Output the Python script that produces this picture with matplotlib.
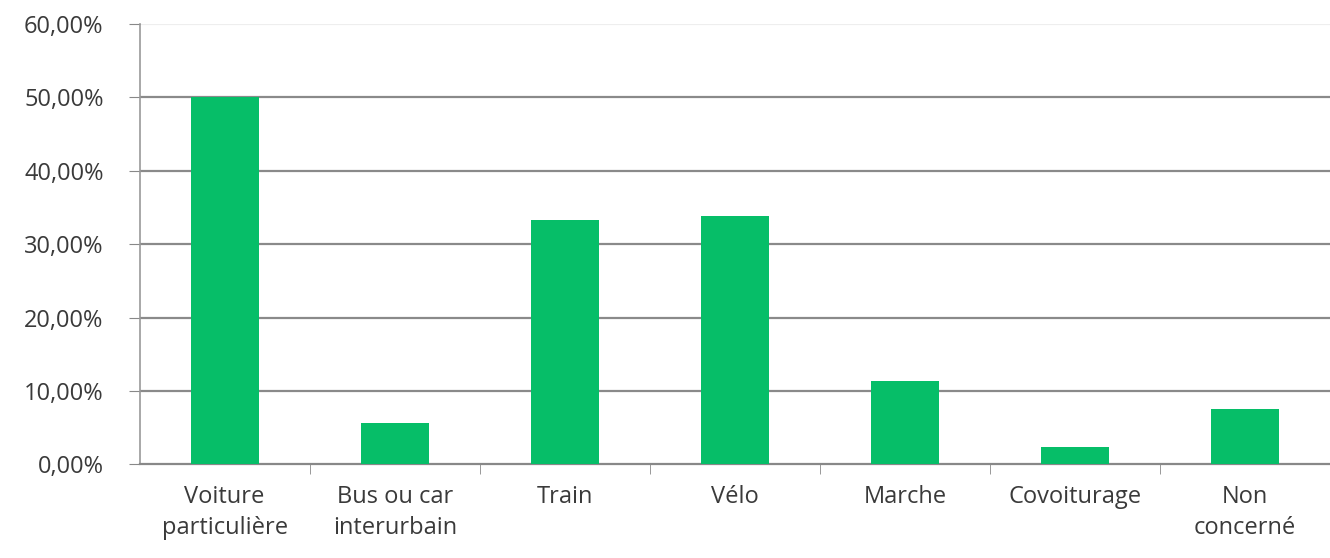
import matplotlib
matplotlib.use("Agg")
import matplotlib.pyplot as plt
import numpy as np
from matplotlib.ticker import FixedLocator

categories = ["Voiture\nparticulière", "Bus ou car\ninterurbain", "Train", "Vélo",
              "Marche", "Covoiturage", "Non\nconcerné"]
values = [50.0, 5.6, 33.3, 33.8, 11.3, 2.3, 7.5]
yticks = [0, 10, 20, 30, 40, 50, 60]
ytick_labels = ["0,00%", "10,00%", "20,00%", "30,00%", "40,00%", "50,00%", "60,00%"]

plt.rcParams['font.family'] = ['Open Sans', 'DejaVu Sans']

fig = plt.figure(figsize=(13.3, 5.58), dpi=100)
ax = fig.add_axes([0.105, 0.168, 0.895, 0.789])

x = np.arange(len(categories))
ax.bar(x, values, width=0.4, color='#06BE68', zorder=3)

ax.set_xlim(-0.5, len(categories) - 0.5)
ax.set_ylim(0, 60)
ax.set_yticks(yticks)
ax.set_yticklabels(ytick_labels, fontsize=17, color='#3a3a3a')
ax.set_xticks(x)
ax.set_xticklabels(categories, fontsize=17, color='#3a3a3a', linespacing=1.4)
ax.tick_params(axis='x', which='major', length=0, pad=15)
ax.xaxis.set_minor_locator(FixedLocator(np.arange(0.5, len(categories) - 0.5, 1)))
ax.tick_params(axis='x', which='minor', length=7, color='#888888', direction='out')
ax.tick_params(axis='y', length=8, color='#888888', direction='out', pad=18)

for yv in yticks[1:]:
    c = '#eeeeee' if yv == 60 else '#8a8a8a'
    ax.axhline(yv, color=c, linewidth=1.6, zorder=1)

for s in ['top', 'right']:
    ax.spines[s].set_visible(False)
ax.spines['left'].set_color('#999999')
ax.spines['bottom'].set_color('#888888')
ax.spines['left'].set_linewidth(1.2)
ax.spines['bottom'].set_linewidth(1.6)

fig.savefig("out.png", dpi=100)
